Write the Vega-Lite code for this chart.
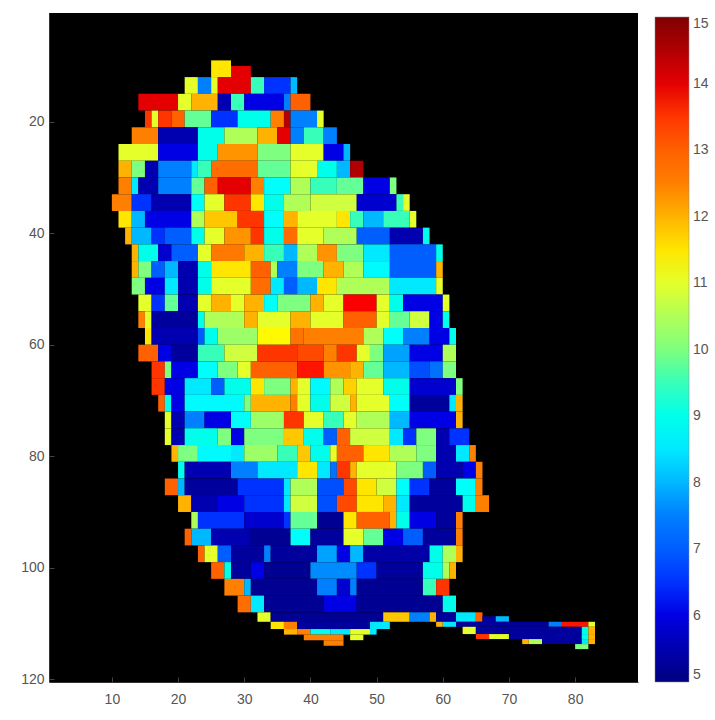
{"$schema":"https://vega.github.io/schema/vega-lite/v6.json","width":589,"height":669,"autosize":"none","padding":{"left":49,"top":13,"right":77,"bottom":38},"background":"white","view":{"fill":"black","stroke":null},
"data":{"values":[
{"x":25,"x2":28,"y":9,"y2":12,"v":11.5},{"x":28,"x2":31,"y":10,"y2":12,"v":14},
{"x":21,"x2":23,"y":12,"y2":15,"v":11},{"x":23,"x2":25,"y":12,"y2":15,"v":7.5},{"x":25,"x2":26,"y":12,"y2":15,"v":11},{"x":26,"x2":31,"y":12,"y2":15,"v":14},{"x":31,"x2":33,"y":12,"y2":15,"v":9.5},{"x":33,"x2":37,"y":12,"y2":15,"v":6.5},{"x":37,"x2":38,"y":12,"y2":15,"v":8},
{"x":14,"x2":20,"y":15,"y2":18,"v":14},{"x":20,"x2":22,"y":15,"y2":18,"v":11},{"x":22,"x2":26,"y":15,"y2":18,"v":12},{"x":26,"x2":28,"y":15,"y2":18,"v":5.5},{"x":28,"x2":30,"y":15,"y2":18,"v":9.5},{"x":30,"x2":36,"y":15,"y2":18,"v":6},{"x":36,"x2":37,"y":15,"y2":18,"v":7.5},{"x":37,"x2":40,"y":15,"y2":18,"v":13},
{"x":15,"x2":16,"y":18,"y2":21,"v":13.5},{"x":16,"x2":17,"y":18,"y2":21,"v":11},{"x":17,"x2":19,"y":18,"y2":21,"v":13.5},{"x":19,"x2":21,"y":18,"y2":21,"v":13},{"x":21,"x2":25,"y":18,"y2":21,"v":9.8},{"x":25,"x2":29,"y":18,"y2":21,"v":6.5},{"x":29,"x2":34,"y":18,"y2":21,"v":9},{"x":34,"x2":36,"y":18,"y2":21,"v":12.5},{"x":36,"x2":37,"y":18,"y2":21,"v":14.5},{"x":37,"x2":41,"y":18,"y2":21,"v":7.5},{"x":41,"x2":42,"y":18,"y2":21,"v":11},
{"x":13,"x2":17,"y":21,"y2":24,"v":12.5},{"x":17,"x2":23,"y":21,"y2":24,"v":5.5},{"x":23,"x2":27,"y":21,"y2":24,"v":9},{"x":27,"x2":32,"y":21,"y2":24,"v":10.5},{"x":32,"x2":35,"y":21,"y2":24,"v":12},{"x":35,"x2":37,"y":21,"y2":24,"v":14},{"x":37,"x2":39,"y":21,"y2":24,"v":7.5},{"x":39,"x2":42,"y":21,"y2":24,"v":9.5},{"x":42,"x2":44,"y":21,"y2":24,"v":7.5},
{"x":11,"x2":17,"y":24,"y2":27,"v":11},{"x":17,"x2":23,"y":24,"y2":27,"v":6},{"x":23,"x2":26,"y":24,"y2":27,"v":9},{"x":26,"x2":32,"y":24,"y2":27,"v":12.3},{"x":32,"x2":37,"y":24,"y2":27,"v":10},{"x":37,"x2":42,"y":24,"y2":27,"v":11},{"x":42,"x2":45,"y":24,"y2":27,"v":6},{"x":45,"x2":46,"y":24,"y2":27,"v":8},
{"x":11,"x2":13,"y":27,"y2":30,"v":12},{"x":13,"x2":15,"y":27,"y2":30,"v":10},{"x":15,"x2":17,"y":27,"y2":30,"v":5.5},{"x":17,"x2":22,"y":27,"y2":30,"v":7.5},{"x":22,"x2":23,"y":27,"y2":30,"v":8.5},{"x":23,"x2":25,"y":27,"y2":30,"v":9.5},{"x":25,"x2":32,"y":27,"y2":30,"v":12.8},{"x":32,"x2":37,"y":27,"y2":30,"v":9.8},{"x":37,"x2":41,"y":27,"y2":30,"v":11},{"x":41,"x2":44,"y":27,"y2":30,"v":9},{"x":44,"x2":46,"y":27,"y2":30,"v":8},{"x":46,"x2":48,"y":27,"y2":30,"v":14.5},
{"x":11,"x2":13,"y":30,"y2":33,"v":12.5},{"x":13,"x2":14,"y":30,"y2":33,"v":8.5},{"x":14,"x2":17,"y":30,"y2":33,"v":5.5},{"x":17,"x2":22,"y":30,"y2":33,"v":7.5},{"x":22,"x2":24,"y":30,"y2":33,"v":9.8},{"x":24,"x2":26,"y":30,"y2":33,"v":13},{"x":26,"x2":31,"y":30,"y2":33,"v":14},{"x":31,"x2":33,"y":30,"y2":33,"v":12.5},{"x":33,"x2":37,"y":30,"y2":33,"v":8.8},{"x":37,"x2":40,"y":30,"y2":33,"v":10.5},{"x":40,"x2":44,"y":30,"y2":33,"v":9.5},{"x":44,"x2":48,"y":30,"y2":33,"v":9.8},{"x":48,"x2":52,"y":30,"y2":33,"v":6},{"x":52,"x2":53,"y":30,"y2":33,"v":10},
{"x":10,"x2":13,"y":33,"y2":36,"v":12.5},{"x":13,"x2":16,"y":33,"y2":36,"v":6.5},{"x":16,"x2":22,"y":33,"y2":36,"v":5.5},{"x":22,"x2":24,"y":33,"y2":36,"v":8.8},{"x":24,"x2":27,"y":33,"y2":36,"v":11},{"x":27,"x2":31,"y":33,"y2":36,"v":13.5},{"x":31,"x2":33,"y":33,"y2":36,"v":11.5},{"x":33,"x2":36,"y":33,"y2":36,"v":9},{"x":36,"x2":40,"y":33,"y2":36,"v":10.5},{"x":40,"x2":47,"y":33,"y2":36,"v":10.8},{"x":47,"x2":53,"y":33,"y2":36,"v":5.8},{"x":53,"x2":54,"y":33,"y2":36,"v":9.5},{"x":54,"x2":55,"y":33,"y2":36,"v":11},
{"x":11,"x2":13,"y":36,"y2":39,"v":11.5},{"x":13,"x2":15,"y":36,"y2":39,"v":8},{"x":15,"x2":22,"y":36,"y2":39,"v":6},{"x":22,"x2":24,"y":36,"y2":39,"v":10.5},{"x":24,"x2":29,"y":36,"y2":39,"v":11.8},{"x":29,"x2":33,"y":36,"y2":39,"v":13.5},{"x":33,"x2":36,"y":36,"y2":39,"v":8.8},{"x":36,"x2":38,"y":36,"y2":39,"v":12},{"x":38,"x2":44,"y":36,"y2":39,"v":11},{"x":44,"x2":46,"y":36,"y2":39,"v":11.5},{"x":46,"x2":48,"y":36,"y2":39,"v":9.5},{"x":48,"x2":51,"y":36,"y2":39,"v":8},{"x":51,"x2":55,"y":36,"y2":39,"v":9.5},{"x":55,"x2":56,"y":36,"y2":39,"v":11},
{"x":12,"x2":13,"y":39,"y2":42,"v":12},{"x":13,"x2":16,"y":39,"y2":42,"v":8},{"x":16,"x2":18,"y":39,"y2":42,"v":6.5},{"x":18,"x2":22,"y":39,"y2":42,"v":7},{"x":22,"x2":24,"y":39,"y2":42,"v":9},{"x":24,"x2":27,"y":39,"y2":42,"v":11},{"x":27,"x2":31,"y":39,"y2":42,"v":12.3},{"x":31,"x2":33,"y":39,"y2":42,"v":13.5},{"x":33,"x2":36,"y":39,"y2":42,"v":9},{"x":36,"x2":38,"y":39,"y2":42,"v":12.8},{"x":38,"x2":42,"y":39,"y2":42,"v":11},{"x":42,"x2":47,"y":39,"y2":42,"v":10.5},{"x":47,"x2":52,"y":39,"y2":42,"v":7},{"x":52,"x2":57,"y":39,"y2":42,"v":5.5},{"x":57,"x2":58,"y":39,"y2":42,"v":9},
{"x":13,"x2":14,"y":42,"y2":45,"v":12},{"x":14,"x2":17,"y":42,"y2":45,"v":9},{"x":17,"x2":19,"y":42,"y2":45,"v":5.8},{"x":19,"x2":23,"y":42,"y2":45,"v":7},{"x":23,"x2":25,"y":42,"y2":45,"v":11},{"x":25,"x2":30,"y":42,"y2":45,"v":12.6},{"x":30,"x2":33,"y":42,"y2":45,"v":12},{"x":33,"x2":36,"y":42,"y2":45,"v":9.5},{"x":36,"x2":38,"y":42,"y2":45,"v":8},{"x":38,"x2":41,"y":42,"y2":45,"v":10.5},{"x":41,"x2":44,"y":42,"y2":45,"v":12.3},{"x":44,"x2":48,"y":42,"y2":45,"v":10},{"x":48,"x2":52,"y":42,"y2":45,"v":8.5},{"x":52,"x2":59,"y":42,"y2":45,"v":7},{"x":59,"x2":60,"y":42,"y2":45,"v":9},
{"x":13,"x2":14,"y":45,"y2":48,"v":12},{"x":14,"x2":16,"y":45,"y2":48,"v":10},{"x":16,"x2":18,"y":45,"y2":48,"v":7},{"x":18,"x2":20,"y":45,"y2":48,"v":8},{"x":20,"x2":23,"y":45,"y2":48,"v":5.5},{"x":23,"x2":25,"y":45,"y2":48,"v":9},{"x":25,"x2":31,"y":45,"y2":48,"v":11.5},{"x":31,"x2":34,"y":45,"y2":48,"v":13},{"x":34,"x2":35,"y":45,"y2":48,"v":10.5},{"x":35,"x2":38,"y":45,"y2":48,"v":7.5},{"x":38,"x2":42,"y":45,"y2":48,"v":10},{"x":42,"x2":45,"y":45,"y2":48,"v":12},{"x":45,"x2":48,"y":45,"y2":48,"v":10.5},{"x":48,"x2":52,"y":45,"y2":48,"v":8.7},{"x":52,"x2":59,"y":45,"y2":48,"v":7},{"x":59,"x2":60,"y":45,"y2":48,"v":12},
{"x":13,"x2":15,"y":48,"y2":51,"v":10},{"x":15,"x2":18,"y":48,"y2":51,"v":6},{"x":18,"x2":20,"y":48,"y2":51,"v":8.5},{"x":20,"x2":23,"y":48,"y2":51,"v":5.5},{"x":23,"x2":25,"y":48,"y2":51,"v":9},{"x":25,"x2":31,"y":48,"y2":51,"v":11},{"x":31,"x2":34,"y":48,"y2":51,"v":12.8},{"x":34,"x2":36,"y":48,"y2":51,"v":8.5},{"x":36,"x2":38,"y":48,"y2":51,"v":7},{"x":38,"x2":41,"y":48,"y2":51,"v":8},{"x":41,"x2":44,"y":48,"y2":51,"v":11.5},{"x":44,"x2":52,"y":48,"y2":51,"v":10.5},{"x":52,"x2":59,"y":48,"y2":51,"v":8.5},{"x":59,"x2":60,"y":48,"y2":51,"v":11},
{"x":14,"x2":16,"y":51,"y2":54,"v":11},{"x":16,"x2":18,"y":51,"y2":54,"v":6.5},{"x":18,"x2":20,"y":51,"y2":54,"v":9.8},{"x":20,"x2":23,"y":51,"y2":54,"v":5.5},{"x":23,"x2":25,"y":51,"y2":54,"v":11},{"x":25,"x2":28,"y":51,"y2":54,"v":12},{"x":28,"x2":30,"y":51,"y2":54,"v":11},{"x":30,"x2":33,"y":51,"y2":54,"v":12},{"x":33,"x2":35,"y":51,"y2":54,"v":8.8},{"x":35,"x2":40,"y":51,"y2":54,"v":10},{"x":40,"x2":42,"y":51,"y2":54,"v":12},{"x":42,"x2":45,"y":51,"y2":54,"v":11},{"x":45,"x2":50,"y":51,"y2":54,"v":13.8},{"x":50,"x2":52,"y":51,"y2":54,"v":11},{"x":52,"x2":54,"y":51,"y2":54,"v":9},{"x":54,"x2":60,"y":51,"y2":54,"v":6},{"x":60,"x2":61,"y":51,"y2":54,"v":11},
{"x":14,"x2":15,"y":54,"y2":57,"v":12.5},{"x":15,"x2":16,"y":54,"y2":57,"v":11},{"x":16,"x2":23,"y":54,"y2":57,"v":5.3},{"x":23,"x2":24,"y":54,"y2":57,"v":9},{"x":24,"x2":30,"y":54,"y2":57,"v":10.5},{"x":30,"x2":32,"y":54,"y2":57,"v":12},{"x":32,"x2":37,"y":54,"y2":57,"v":11},{"x":37,"x2":40,"y":54,"y2":57,"v":12},{"x":40,"x2":45,"y":54,"y2":57,"v":11},{"x":45,"x2":50,"y":54,"y2":57,"v":13},{"x":50,"x2":52,"y":54,"y2":57,"v":11},{"x":52,"x2":55,"y":54,"y2":57,"v":9.8},{"x":55,"x2":58,"y":54,"y2":57,"v":10.8},{"x":58,"x2":60,"y":54,"y2":57,"v":6},{"x":60,"x2":61,"y":54,"y2":57,"v":9},
{"x":15,"x2":16,"y":57,"y2":60,"v":11.5},{"x":16,"x2":23,"y":57,"y2":60,"v":5.5},{"x":23,"x2":24,"y":57,"y2":60,"v":7},{"x":24,"x2":26,"y":57,"y2":60,"v":9},{"x":26,"x2":32,"y":57,"y2":60,"v":10.3},{"x":32,"x2":37,"y":57,"y2":60,"v":11.3},{"x":37,"x2":39,"y":57,"y2":60,"v":12.7},{"x":39,"x2":48,"y":57,"y2":60,"v":12.5},{"x":48,"x2":51,"y":57,"y2":60,"v":10.5},{"x":51,"x2":54,"y":57,"y2":60,"v":8.8},{"x":54,"x2":58,"y":57,"y2":60,"v":7.5},{"x":58,"x2":61,"y":57,"y2":60,"v":6},{"x":61,"x2":62,"y":57,"y2":60,"v":9},
{"x":14,"x2":17,"y":60,"y2":63,"v":13},{"x":17,"x2":19,"y":60,"y2":63,"v":6},{"x":19,"x2":23,"y":60,"y2":63,"v":5.3},{"x":23,"x2":27,"y":60,"y2":63,"v":9.5},{"x":27,"x2":32,"y":60,"y2":63,"v":10.8},{"x":32,"x2":38,"y":60,"y2":63,"v":13.5},{"x":38,"x2":42,"y":60,"y2":63,"v":13.3},{"x":42,"x2":44,"y":60,"y2":63,"v":12.5},{"x":44,"x2":47,"y":60,"y2":63,"v":13.5},{"x":47,"x2":49,"y":60,"y2":63,"v":11},{"x":49,"x2":51,"y":60,"y2":63,"v":10},{"x":51,"x2":55,"y":60,"y2":63,"v":7.8},{"x":55,"x2":60,"y":60,"y2":63,"v":6},{"x":60,"x2":62,"y":60,"y2":63,"v":10.5},
{"x":16,"x2":18,"y":63,"y2":66,"v":13.5},{"x":18,"x2":19,"y":63,"y2":66,"v":10},{"x":19,"x2":23,"y":63,"y2":66,"v":6},{"x":23,"x2":26,"y":63,"y2":66,"v":8.8},{"x":26,"x2":29,"y":63,"y2":66,"v":10},{"x":29,"x2":31,"y":63,"y2":66,"v":11},{"x":31,"x2":38,"y":63,"y2":66,"v":13},{"x":38,"x2":42,"y":63,"y2":66,"v":13.7},{"x":42,"x2":46,"y":63,"y2":66,"v":12.3},{"x":46,"x2":48,"y":63,"y2":66,"v":12},{"x":48,"x2":51,"y":63,"y2":66,"v":9.8},{"x":51,"x2":55,"y":63,"y2":66,"v":8},{"x":55,"x2":58,"y":63,"y2":66,"v":6.8},{"x":58,"x2":60,"y":63,"y2":66,"v":7.3},{"x":60,"x2":62,"y":63,"y2":66,"v":10},
{"x":16,"x2":18,"y":66,"y2":69,"v":13.5},{"x":18,"x2":21,"y":66,"y2":69,"v":6},{"x":21,"x2":25,"y":66,"y2":69,"v":8.5},{"x":25,"x2":27,"y":66,"y2":69,"v":7},{"x":27,"x2":31,"y":66,"y2":69,"v":9},{"x":31,"x2":33,"y":66,"y2":69,"v":11.5},{"x":33,"x2":37,"y":66,"y2":69,"v":10},{"x":37,"x2":38,"y":66,"y2":69,"v":12},{"x":38,"x2":40,"y":66,"y2":69,"v":11},{"x":40,"x2":43,"y":66,"y2":69,"v":8.7},{"x":43,"x2":45,"y":66,"y2":69,"v":10.5},{"x":45,"x2":47,"y":66,"y2":69,"v":11.7},{"x":47,"x2":51,"y":66,"y2":69,"v":11},{"x":51,"x2":55,"y":66,"y2":69,"v":9},{"x":55,"x2":62,"y":66,"y2":69,"v":5.8},{"x":62,"x2":63,"y":66,"y2":69,"v":10},
{"x":17,"x2":18,"y":69,"y2":72,"v":13},{"x":18,"x2":19,"y":69,"y2":72,"v":9},{"x":19,"x2":21,"y":69,"y2":72,"v":6},{"x":21,"x2":30,"y":69,"y2":72,"v":8.7},{"x":30,"x2":31,"y":69,"y2":72,"v":10},{"x":31,"x2":37,"y":69,"y2":72,"v":12},{"x":37,"x2":38,"y":69,"y2":72,"v":12.5},{"x":38,"x2":40,"y":69,"y2":72,"v":11},{"x":40,"x2":43,"y":69,"y2":72,"v":9},{"x":43,"x2":46,"y":69,"y2":72,"v":10.8},{"x":46,"x2":47,"y":69,"y2":72,"v":12},{"x":47,"x2":52,"y":69,"y2":72,"v":11},{"x":52,"x2":55,"y":69,"y2":72,"v":8.8},{"x":55,"x2":61,"y":69,"y2":72,"v":5.3},{"x":61,"x2":62,"y":69,"y2":72,"v":8.5},{"x":62,"x2":63,"y":69,"y2":72,"v":12},
{"x":18,"x2":19,"y":72,"y2":75,"v":11},{"x":19,"x2":21,"y":72,"y2":75,"v":5.5},{"x":21,"x2":24,"y":72,"y2":75,"v":7.5},{"x":24,"x2":28,"y":72,"y2":75,"v":6},{"x":28,"x2":31,"y":72,"y2":75,"v":8.8},{"x":31,"x2":36,"y":72,"y2":75,"v":10.3},{"x":36,"x2":39,"y":72,"y2":75,"v":13.5},{"x":39,"x2":42,"y":72,"y2":75,"v":11},{"x":42,"x2":45,"y":72,"y2":75,"v":9.5},{"x":45,"x2":47,"y":72,"y2":75,"v":11},{"x":47,"x2":52,"y":72,"y2":75,"v":10.5},{"x":52,"x2":55,"y":72,"y2":75,"v":8},{"x":55,"x2":62,"y":72,"y2":75,"v":6},{"x":62,"x2":63,"y":72,"y2":75,"v":12},
{"x":18,"x2":19,"y":75,"y2":78,"v":11},{"x":19,"x2":21,"y":75,"y2":78,"v":5.5},{"x":21,"x2":26,"y":75,"y2":78,"v":9},{"x":26,"x2":28,"y":75,"y2":78,"v":10},{"x":28,"x2":30,"y":75,"y2":78,"v":6},{"x":30,"x2":36,"y":75,"y2":78,"v":10},{"x":36,"x2":39,"y":75,"y2":78,"v":11.8},{"x":39,"x2":42,"y":75,"y2":78,"v":9},{"x":42,"x2":44,"y":75,"y2":78,"v":7},{"x":44,"x2":46,"y":75,"y2":78,"v":13},{"x":46,"x2":52,"y":75,"y2":78,"v":10.8},{"x":52,"x2":54,"y":75,"y2":78,"v":8.5},{"x":54,"x2":56,"y":75,"y2":78,"v":6.5},{"x":56,"x2":59,"y":75,"y2":78,"v":10},{"x":59,"x2":61,"y":75,"y2":78,"v":5.5},{"x":61,"x2":64,"y":75,"y2":78,"v":6.5},
{"x":19,"x2":20,"y":78,"y2":81,"v":12},{"x":20,"x2":23,"y":78,"y2":81,"v":10},{"x":23,"x2":28,"y":78,"y2":81,"v":8.7},{"x":28,"x2":30,"y":78,"y2":81,"v":8.5},{"x":30,"x2":35,"y":78,"y2":81,"v":10.3},{"x":35,"x2":38,"y":78,"y2":81,"v":9.5},{"x":38,"x2":40,"y":78,"y2":81,"v":11.8},{"x":40,"x2":43,"y":78,"y2":81,"v":9},{"x":43,"x2":44,"y":78,"y2":81,"v":11},{"x":44,"x2":48,"y":78,"y2":81,"v":13},{"x":48,"x2":52,"y":78,"y2":81,"v":11.5},{"x":52,"x2":56,"y":78,"y2":81,"v":10.5},{"x":56,"x2":59,"y":78,"y2":81,"v":10},{"x":59,"x2":62,"y":78,"y2":81,"v":5.5},{"x":62,"x2":64,"y":78,"y2":81,"v":8.5},{"x":64,"x2":65,"y":78,"y2":81,"v":12.5},
{"x":20,"x2":21,"y":81,"y2":84,"v":9},{"x":21,"x2":28,"y":81,"y2":84,"v":5.5},{"x":28,"x2":32,"y":81,"y2":84,"v":7.5},{"x":32,"x2":38,"y":81,"y2":84,"v":8.5},{"x":38,"x2":41,"y":81,"y2":84,"v":11.5},{"x":41,"x2":43,"y":81,"y2":84,"v":8.5},{"x":43,"x2":44,"y":81,"y2":84,"v":7.3},{"x":44,"x2":46,"y":81,"y2":84,"v":13.5},{"x":46,"x2":47,"y":81,"y2":84,"v":12},{"x":47,"x2":53,"y":81,"y2":84,"v":11},{"x":53,"x2":57,"y":81,"y2":84,"v":10},{"x":57,"x2":59,"y":81,"y2":84,"v":7},{"x":59,"x2":63,"y":81,"y2":84,"v":5.5},{"x":63,"x2":65,"y":81,"y2":84,"v":6},{"x":65,"x2":66,"y":81,"y2":84,"v":12.5},
{"x":18,"x2":20,"y":84,"y2":87,"v":13},{"x":20,"x2":21,"y":84,"y2":87,"v":8},{"x":21,"x2":29,"y":84,"y2":87,"v":5.3},{"x":29,"x2":36,"y":84,"y2":87,"v":6.5},{"x":36,"x2":37,"y":84,"y2":87,"v":8.5},{"x":37,"x2":41,"y":84,"y2":87,"v":10.5},{"x":41,"x2":45,"y":84,"y2":87,"v":6.8},{"x":45,"x2":47,"y":84,"y2":87,"v":13.3},{"x":47,"x2":50,"y":84,"y2":87,"v":11.5},{"x":50,"x2":53,"y":84,"y2":87,"v":10.8},{"x":53,"x2":55,"y":84,"y2":87,"v":8.8},{"x":55,"x2":58,"y":84,"y2":87,"v":6.5},{"x":58,"x2":62,"y":84,"y2":87,"v":5.3},{"x":62,"x2":65,"y":84,"y2":87,"v":8.8},{"x":65,"x2":66,"y":84,"y2":87,"v":12.5},
{"x":20,"x2":22,"y":87,"y2":90,"v":12},{"x":22,"x2":26,"y":87,"y2":90,"v":5.5},{"x":26,"x2":30,"y":87,"y2":90,"v":6},{"x":30,"x2":36,"y":87,"y2":90,"v":6.5},{"x":36,"x2":37,"y":87,"y2":90,"v":8.5},{"x":37,"x2":41,"y":87,"y2":90,"v":10.8},{"x":41,"x2":44,"y":87,"y2":90,"v":6.8},{"x":44,"x2":47,"y":87,"y2":90,"v":13.3},{"x":47,"x2":51,"y":87,"y2":90,"v":11.5},{"x":51,"x2":53,"y":87,"y2":90,"v":12},{"x":53,"x2":55,"y":87,"y2":90,"v":8.5},{"x":55,"x2":63,"y":87,"y2":90,"v":5.3},{"x":63,"x2":65,"y":87,"y2":90,"v":9},{"x":65,"x2":67,"y":87,"y2":90,"v":12.5},
{"x":22,"x2":23,"y":90,"y2":93,"v":10.5},{"x":23,"x2":30,"y":90,"y2":93,"v":6.5},{"x":30,"x2":36,"y":90,"y2":93,"v":5.8},{"x":36,"x2":37,"y":90,"y2":93,"v":6.5},{"x":37,"x2":41,"y":90,"y2":93,"v":9.8},{"x":41,"x2":45,"y":90,"y2":93,"v":5.2},{"x":45,"x2":47,"y":90,"y2":93,"v":11.5},{"x":47,"x2":52,"y":90,"y2":93,"v":13},{"x":52,"x2":53,"y":90,"y2":93,"v":12},{"x":53,"x2":55,"y":90,"y2":93,"v":9},{"x":55,"x2":59,"y":90,"y2":93,"v":6},{"x":59,"x2":62,"y":90,"y2":93,"v":5.3},{"x":62,"x2":63,"y":90,"y2":93,"v":12.5},
{"x":21,"x2":22,"y":93,"y2":96,"v":13},{"x":22,"x2":25,"y":93,"y2":96,"v":8},{"x":25,"x2":31,"y":93,"y2":96,"v":5.5},{"x":31,"x2":37,"y":93,"y2":96,"v":5.2},{"x":37,"x2":40,"y":93,"y2":96,"v":8.8},{"x":40,"x2":45,"y":93,"y2":96,"v":5.3},{"x":45,"x2":48,"y":93,"y2":96,"v":11},{"x":48,"x2":51,"y":93,"y2":96,"v":9.8},{"x":51,"x2":54,"y":93,"y2":96,"v":6},{"x":54,"x2":57,"y":93,"y2":96,"v":7},{"x":57,"x2":62,"y":93,"y2":96,"v":5.3},{"x":62,"x2":63,"y":93,"y2":96,"v":12.5},
{"x":23,"x2":24,"y":96,"y2":99,"v":13},{"x":24,"x2":26,"y":96,"y2":99,"v":11},{"x":26,"x2":28,"y":96,"y2":99,"v":7},{"x":28,"x2":33,"y":96,"y2":99,"v":5.3},{"x":33,"x2":34,"y":96,"y2":99,"v":7.5},{"x":34,"x2":41,"y":96,"y2":99,"v":5.3},{"x":41,"x2":44,"y":96,"y2":99,"v":7.8},{"x":44,"x2":46,"y":96,"y2":99,"v":6},{"x":46,"x2":48,"y":96,"y2":99,"v":8},{"x":48,"x2":58,"y":96,"y2":99,"v":5.4},{"x":58,"x2":60,"y":96,"y2":99,"v":9},{"x":60,"x2":62,"y":96,"y2":99,"v":10.5},{"x":62,"x2":63,"y":96,"y2":99,"v":12},
{"x":25,"x2":27,"y":99,"y2":102,"v":13},{"x":27,"x2":28,"y":99,"y2":102,"v":9},{"x":28,"x2":31,"y":99,"y2":102,"v":5.3},{"x":31,"x2":33,"y":99,"y2":102,"v":6},{"x":33,"x2":40,"y":99,"y2":102,"v":5.2},{"x":40,"x2":47,"y":99,"y2":102,"v":7.6},{"x":47,"x2":50,"y":99,"y2":102,"v":6.5},{"x":50,"x2":57,"y":99,"y2":102,"v":5.3},{"x":57,"x2":60,"y":99,"y2":102,"v":9},{"x":60,"x2":61,"y":99,"y2":102,"v":10.5},{"x":61,"x2":62,"y":99,"y2":102,"v":12},
{"x":27,"x2":30,"y":102,"y2":105,"v":12.5},{"x":30,"x2":31,"y":102,"y2":105,"v":8},{"x":31,"x2":41,"y":102,"y2":105,"v":5.2},{"x":41,"x2":44,"y":102,"y2":105,"v":7.5},{"x":44,"x2":46,"y":102,"y2":105,"v":5.8},{"x":46,"x2":47,"y":102,"y2":105,"v":7.5},{"x":47,"x2":57,"y":102,"y2":105,"v":5.2},{"x":57,"x2":59,"y":102,"y2":105,"v":9.5},{"x":59,"x2":61,"y":102,"y2":105,"v":13.5},
{"x":29,"x2":31,"y":105,"y2":108,"v":12.8},{"x":31,"x2":33,"y":105,"y2":108,"v":8.5},{"x":33,"x2":42,"y":105,"y2":108,"v":5.2},{"x":42,"x2":47,"y":105,"y2":108,"v":6},{"x":47,"x2":60,"y":105,"y2":108,"v":5.2},{"x":60,"x2":62,"y":105,"y2":108,"v":9},
{"x":32,"x2":34,"y":108,"y2":109.7,"v":11},{"x":34,"x2":51,"y":108,"y2":109.7,"v":5.2},{"x":51,"x2":55,"y":108,"y2":109.7,"v":11.8},{"x":55,"x2":58,"y":108,"y2":109.7,"v":7.5},{"x":58,"x2":59,"y":108,"y2":109.7,"v":12},{"x":59,"x2":62,"y":108,"y2":109.7,"v":5.3},{"x":62,"x2":65,"y":108,"y2":109.7,"v":8.5},{"x":65,"x2":66,"y":108,"y2":109.7,"v":13},{"x":66,"x2":68,"y":108.7,"y2":109.7,"v":5.3},{"x":68,"x2":70,"y":108.7,"y2":109.7,"v":8},
{"x":34,"x2":36,"y":109.7,"y2":111,"v":11.5},{"x":36,"x2":38,"y":109.7,"y2":111,"v":12.5},{"x":38,"x2":49,"y":109.7,"y2":111,"v":5.3},{"x":49,"x2":52,"y":109.7,"y2":111,"v":8.5},{"x":59,"x2":60,"y":109.7,"y2":110.6,"v":12},{"x":60,"x2":62,"y":109.7,"y2":110.6,"v":8.5},{"x":62,"x2":76,"y":109.7,"y2":110.6,"v":5.3},{"x":76,"x2":78,"y":109.7,"y2":110.6,"v":7.5},{"x":78,"x2":82,"y":109.7,"y2":110.6,"v":13.7},{"x":82,"x2":83,"y":109.7,"y2":110.6,"v":11},
{"x":36,"x2":38,"y":111,"y2":112,"v":12},{"x":38,"x2":40,"y":111,"y2":112,"v":12.5},{"x":40,"x2":43,"y":111,"y2":112,"v":9},{"x":43,"x2":46,"y":111,"y2":112,"v":8.5},{"x":46,"x2":49,"y":111,"y2":112,"v":11},{"x":49,"x2":50,"y":111,"y2":112,"v":8.5},{"x":63,"x2":65,"y":110.6,"y2":111.9,"v":11},{"x":65,"x2":81,"y":110.6,"y2":111.9,"v":5.3},{"x":81,"x2":82,"y":110.6,"y2":111.9,"v":9},{"x":82,"x2":83,"y":110.6,"y2":111.9,"v":12},
{"x":39,"x2":45,"y":112,"y2":113,"v":12.5},{"x":46,"x2":48,"y":112,"y2":113,"v":11},{"x":65,"x2":67,"y":111.9,"y2":112.8,"v":13.5},{"x":67,"x2":70,"y":111.9,"y2":112.8,"v":11},{"x":70,"x2":81,"y":111.9,"y2":112.8,"v":5.3},{"x":81,"x2":82,"y":111.9,"y2":112.8,"v":9},{"x":82,"x2":83,"y":111.9,"y2":112.8,"v":12},
{"x":42,"x2":45,"y":113,"y2":114,"v":12.5},{"x":72,"x2":73,"y":112.8,"y2":113.7,"v":12},{"x":73,"x2":75,"y":112.8,"y2":113.7,"v":10.5},{"x":75,"x2":81,"y":112.8,"y2":113.7,"v":5.3},{"x":81,"x2":82,"y":112.8,"y2":113.7,"v":8.5},{"x":82,"x2":83,"y":112.8,"y2":113.7,"v":12},
{"x":80,"x2":82,"y":113.7,"y2":114.6,"v":10}
]},
"mark":{"type":"rect","strokeWidth":0},
"encoding":{
"x":{"field":"x","type":"quantitative","scale":{"domain":[0.5,89.5],"nice":false,"zero":false},"axis":{"values":[10,20,30,40,50,60,70,80],"title":null,"grid":false,"domainColor":"#333333","tickColor":"#444444","tickSize":-5,"labelColor":"#555555","labelFont":"Liberation Sans","labelFontSize":14,"labelPadding":15}},
"x2":{"field":"x2"},
"y":{"field":"y","type":"quantitative","scale":{"domain":[0.5,120.5],"reverse":true,"nice":false,"zero":false},"axis":{"values":[20,40,60,80,100,120],"title":null,"grid":false,"domainColor":"#333333","tickColor":"#444444","tickSize":-5,"labelColor":"#555555","labelFont":"Liberation Sans","labelFontSize":14,"labelPadding":10}},
"y2":{"field":"y2"},
"color":{"field":"v","type":"quantitative","scale":{"domain":[5,15],"range":["#00007f","#0000ff","#007fff","#00ffff","#7fff7f","#ffff00","#ff7f00","#ff0000","#7f0000"],"zero":false,"nice":false},"legend":{"title":null,"orient":"none","legendX":606,"legendY":4,"direction":"vertical","gradientLength":665,"gradientThickness":34,"gradientStrokeColor":"#888888","gradientStrokeWidth":0.5,"values":[5,6,7,8,9,10,11,12,13,14,15],"labelColor":"#555555","labelFont":"Liberation Sans","labelFontSize":14,"labelOffset":4,"labelOverlap":false,"tickCount":11}}
}}
